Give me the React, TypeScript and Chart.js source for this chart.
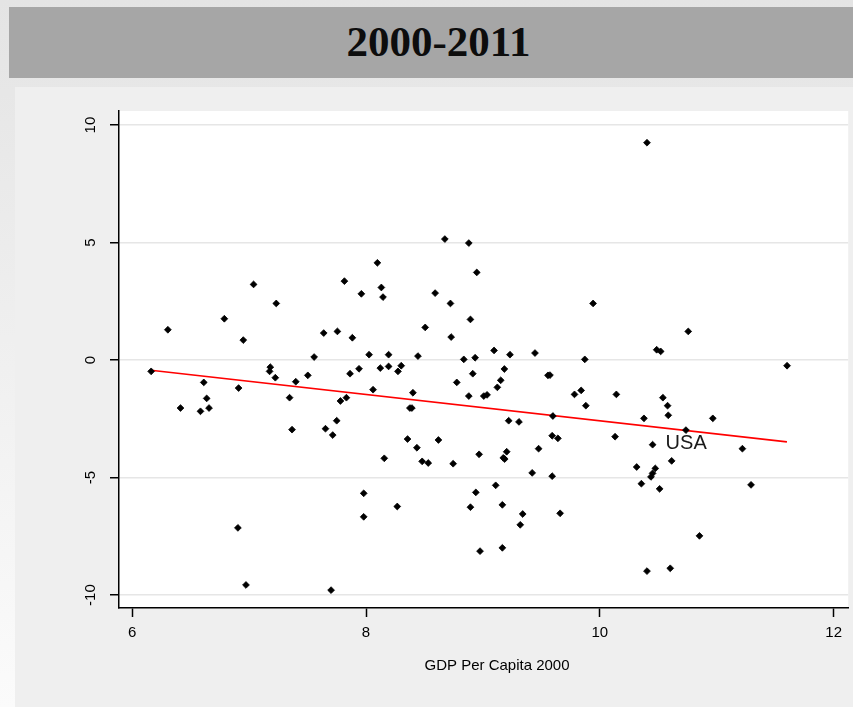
import { useEffect, useRef } from 'react';
import { Chart, registerables } from 'chart.js';

Chart.register(...registerables);

// Log GDP per capita in 2000 (x) against growth 2000-2011 (y), one entry per country
const gdpPerCapita2000 = [
  6.162, 6.305, 7.038, 7.232, 6.788, 6.95, 6.612, 6.413, 6.584, 6.637,
  6.657, 6.91, 7.181, 7.175, 7.224, 7.346, 7.399, 7.502, 7.556, 7.638,
  7.755, 7.815, 7.96, 7.883, 7.94, 7.863, 7.832, 7.781, 8.026, 8.097,
  8.131, 8.145, 8.193, 8.122, 8.193, 8.301, 8.273, 8.06, 8.401, 8.375,
  8.392, 8.444, 8.506, 8.591, 8.674, 8.879, 8.947, 8.722, 8.893, 8.728,
  8.836, 8.933, 8.913, 8.776, 8.879, 9.007, 9.035, 9.095, 9.231, 9.183,
  9.152, 9.123, 9.22, 9.308, 9.445, 9.556, 9.573, 9.598, 9.783, 9.84,
  9.88, 9.871, 9.942, 10.403, 10.756, 10.486, 10.52, 11.601, 10.141, 10.539,
  10.579, 10.585, 10.377, 10.966, 7.367, 7.653, 7.749, 7.715, 7.98, 7.98,
  6.904, 6.973, 7.701, 9.592, 9.641, 8.355, 8.619, 8.435, 8.156, 8.48,
  8.532, 8.745, 8.967, 9.203, 9.174, 9.186, 9.476, 9.421, 9.592, 8.267,
  8.939, 9.109, 8.893, 9.166, 9.34, 9.319, 9.66, 8.975, 9.166, 10.13,
  10.736, 10.451, 11.219, 10.614, 10.315, 10.474, 10.451, 10.437, 10.355, 10.511,
  11.293, 10.852, 10.403, 10.602,
];

const growth = [
  -0.48, 1.29, 3.22, 2.41, 1.76, 0.85, -0.95, -2.04, -2.18, -1.63,
  -2.04, -1.19, -0.3, -0.48, -0.75, -1.6, -0.92, -0.65, 0.13, 1.15,
  1.22, 3.36, 2.82, 0.95, -0.37, -0.58, -1.6, -1.74, 0.23, 4.14,
  3.09, 2.68, 0.23, -0.34, -0.27, -0.24, -0.48, -1.26, -1.39, -2.04,
  -2.04, 0.17, 1.39, 2.85, 5.15, 4.98, 3.73, 2.41, 1.73, 0.98,
  0.03, 0.1, -0.58, -0.95, -1.53, -1.53, -1.48, 0.41, 0.23, -0.38,
  -0.86, -1.16, -2.58, -2.63, 0.3, -0.65, -0.64, -2.38, -1.46, -1.29,
  -1.94, 0.03, 2.41, 9.25, 1.22, 0.44, 0.37, -0.24, -1.46, -1.6,
  -1.94, -2.35, -2.48, -2.48, -2.96, -2.92, -2.58, -3.19, -5.67, -6.67,
  -7.14, -9.57, -9.79, -3.22, -3.33, -3.36, -3.4, -3.73, -4.18, -4.31,
  -4.38, -4.41, -4.01, -3.9, -4.16, -4.21, -3.77, -4.8, -4.94, -6.23,
  -5.63, -5.33, -6.26, -6.16, -6.55, -7.01, -6.52, -8.13, -7.99, -3.26,
  -2.98, -3.6, -3.77, -4.29, -4.55, -4.61, -4.82, -4.97, -5.26, -5.48,
  -5.31, -7.48, -8.98, -8.86,
];

// Fitted regression line, evaluated at the smallest and largest x
const fitX = [6.16, 11.6];
const fitY = [-0.43, -3.48];

// Marker labels: [index into the arrays above, label text]
const markerLabels: [number, string][] = [[121, 'USA']];

const titleText = '2000-2011';
const xAxisTitle = 'GDP Per Capita 2000';

const SANS = '"Liberation Sans", Arial, Helvetica, sans-serif';

const overlayText = {
  id: 'overlayText',
  beforeDraw(chart: any) {
    const { ctx, chartArea } = chart;
    ctx.save();
    ctx.fillStyle = '#ffffff';
    ctx.fillRect(chartArea.left, chartArea.top, chartArea.right - chartArea.left, chartArea.bottom - chartArea.top);
    ctx.restore();
  },
  afterDraw(chart: any) {
    const { ctx, chartArea } = chart;
    const ys = chart.scales.y;
    ctx.save();
    ctx.fillStyle = '#000000';
    ctx.font = `15px ${SANS}`;
    ctx.textAlign = 'center';
    ctx.textBaseline = 'middle';
    // vertical axis labels, rotated to read upward
    for (const t of ys.ticks) {
      const py = ys.getPixelForValue(t.value);
      ctx.save();
      ctx.translate(chartArea.left - 28, py);
      ctx.rotate(-Math.PI / 2);
      ctx.fillText(String(t.value), 0, 0);
      ctx.restore();
    }
    // horizontal axis title
    ctx.fillText(xAxisTitle, chartArea.left + 378, chartArea.bottom + 58);
    // marker labels placed to the right of their points
    const meta = chart.getDatasetMeta(0);
    ctx.font = `20px ${SANS}`;
    ctx.textAlign = 'left';
    ctx.fillStyle = '#1a1a1a';
    for (const [i, name] of markerLabels) {
      const pt = meta.data[i];
      ctx.fillText(name, pt.x + 13, pt.y - 1);
    }
    ctx.restore();
  },
};

export default function App() {
  const canvasRef = useRef<HTMLCanvasElement | null>(null);

  useEffect(() => {
    const canvas = canvasRef.current;
    if (!canvas) return;
    const points = gdpPerCapita2000.map((x, i) => ({ x, y: growth[i] }));
    const fit = fitX.map((x, i) => ({ x, y: fitY[i] }));

    const chart = new Chart(canvas, {
      type: 'scatter',
      data: {
        datasets: [
          {
            data: points,
            pointStyle: 'rectRot',
            pointRadius: 3.4,
            pointBorderWidth: 0.8,
            backgroundColor: '#000000',
            borderColor: '#000000',
            order: 1,
          },
          {
            type: 'line',
            data: fit,
            borderColor: '#ff0000',
            borderWidth: 1.6,
            pointRadius: 0,
            fill: false,
            order: 2,
          } as any,
        ],
      },
      options: {
        responsive: false,
        animation: false,
        devicePixelRatio: 1,
        layout: { padding: { top: 111, right: 3, left: 0, bottom: 0 } },
        plugins: {
          legend: { display: false },
          tooltip: { enabled: false },
          title: { display: false },
        },
        scales: {
          x: {
            type: 'linear',
            min: 5.887,
            max: 12.124,
            afterFit(scale: any) {
              scale.height = 99;
            },
            border: { display: true, color: '#000000', width: 1.5 },
            grid: {
              drawOnChartArea: false,
              drawTicks: true,
              tickLength: 9,
              tickColor: '#000000',
              tickWidth: 1.5,
            },
            ticks: {
              stepSize: 2,
              includeBounds: false,
              padding: 7,
              color: '#000000',
              maxRotation: 0,
              font: { family: SANS, size: 15 },
            },
          },
          y: {
            type: 'linear',
            min: -10.55,
            max: 10.6,
            afterFit(scale: any) {
              scale.width = 119;
            },
            border: { display: true, color: '#000000', width: 1.5 },
            grid: {
              drawOnChartArea: true,
              color: '#e6e6e6',
              lineWidth: 1.5,
              drawTicks: true,
              tickLength: 9,
              tickColor: '#000000',
              tickWidth: 1.5,
            },
            ticks: {
              stepSize: 5,
              includeBounds: false,
              display: false,
            },
          },
        },
      },
      plugins: [overlayText],
    });

    return () => chart.destroy();
  }, []);

  return (
    <div
      style={{
        position: 'absolute',
        left: 0,
        top: 0,
        width: 853,
        height: 707,
        overflow: 'hidden',
        background: 'linear-gradient(#e4e4e4, #fbfbfb)',
      }}
    >
      <div style={{ position: 'absolute', left: 9, top: 7, width: 844, height: 71, background: '#a6a6a6' }} />
      <div
        style={{
          position: 'absolute',
          left: 438.5,
          top: 18,
          transform: 'translateX(-50%)',
          fontFamily: '"Liberation Serif", "Times New Roman", serif',
          fontWeight: 'bold',
          fontSize: 43,
          lineHeight: '48px',
          whiteSpace: 'nowrap',
          color: '#0d0d0d',
        }}
      >
        {titleText}
      </div>
      <div style={{ position: 'absolute', left: 15, top: 87, width: 838, height: 620, background: '#efefef' }} />
      <canvas ref={canvasRef} width={853} height={707} style={{ position: 'absolute', left: 0, top: 0 }} />
    </div>
  );
}
